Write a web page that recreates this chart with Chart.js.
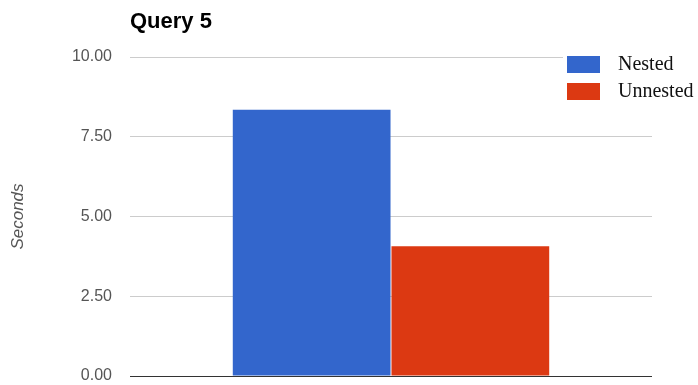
<!DOCTYPE html>
<html>
<head>
<meta charset="utf-8">
<script src="https://cdn.jsdelivr.net/npm/chart.js@4.4.1/dist/chart.umd.min.js"></script>
<style>
  html, body { margin: 0; padding: 0; background: #fff; overflow: hidden; }
  #wrap { width: 698px; height: 385px; position: relative; }
</style>
</head>
<body>
<div id="wrap"><canvas id="c"></canvas></div>
<script>
// Query 5 timings (seconds)
const categories = ['Query 5'];
const seriesNames = ['Nested', 'Unnested'];
const nestedSeconds = [8.35];
const unnestedSeconds = [4.07];
const yTicks = [0, 2.5, 5, 7.5, 10];
const seriesColors = ['#3366cc', '#dc3912'];

const titleText = 'Query 5';
const axisTitle = 'Seconds';

// Title and right-hand legend, drawn on top of the plot
const overlayPlugin = {
  id: 'overlay',
  afterDraw(chart) {
    const ctx = chart.ctx;
    ctx.save();
    // title
    ctx.fillStyle = '#000';
    ctx.font = 'bold 22px "Liberation Sans", Arial, sans-serif';
    ctx.textAlign = 'left';
    ctx.textBaseline = 'alphabetic';
    ctx.fillText(titleText, 130, 28);

    // legend
    ctx.fillStyle = '#fff';
    ctx.fillRect(563, 48, 135, 60);
    const boxX = 567, boxW = 33, boxH = 17;
    const rowsY = [56, 83];
    chart.data.datasets.forEach((ds, i) => {
      ctx.fillStyle = ds.backgroundColor;
      ctx.fillRect(boxX, rowsY[i], boxW, boxH);
      ctx.fillStyle = '#111';
      ctx.font = '20px "Liberation Serif", "Times New Roman", serif';
      ctx.textBaseline = 'middle';
      ctx.fillText(ds.label, 618, rowsY[i] + boxH / 2);
    });
    ctx.restore();
  }
};

new Chart(document.getElementById('c'), {
  type: 'bar',
  data: {
    labels: categories,
    datasets: [
      { label: seriesNames[0], data: nestedSeconds, backgroundColor: seriesColors[0] },
      { label: seriesNames[1], data: unnestedSeconds, backgroundColor: seriesColors[1] }
    ]
  },
  options: {
    responsive: true,
    maintainAspectRatio: false,
    animation: false,
    layout: { padding: { left: 0, right: 46, top: 57, bottom: 9 } },
    datasets: { bar: { categoryPercentage: 0.608, barPercentage: 0.994, borderWidth: 0 } },
    plugins: {
      legend: { display: false },
      title: { display: false },
      tooltip: { enabled: false }
    },
    scales: {
      x: {
        display: false
      },
      y: {
        min: 0,
        max: 10,
        afterBuildTicks(scale) { scale.ticks = yTicks.map(v => ({ value: v })); },
        afterFit(scale) {
          scale.width = 130;
          scale.paddingTop = 0;
          scale.paddingBottom = 0;
        },
        border: { display: false },
        grid: {
          drawTicks: true,
          tickLength: 18,
          tickColor: 'rgba(0,0,0,0)',
          lineWidth: 1,
          color: c => (c.tick && c.tick.value === 0 ? '#333' : '#cccccc')
        },
        ticks: {
          padding: 0,
          color: '#555',
          font: { family: '"Liberation Sans", Arial, sans-serif', size: 16 },
          callback: v => Number(v).toFixed(2)
        },
        title: {
          display: true,
          text: axisTitle,
          color: '#555',
          padding: { top: 8, bottom: 0 },
          font: { family: '"Liberation Sans", Arial, sans-serif', size: 17, style: 'italic' }
        }
      }
    }
  },
  plugins: [overlayPlugin]
});
</script>
</body>
</html>
